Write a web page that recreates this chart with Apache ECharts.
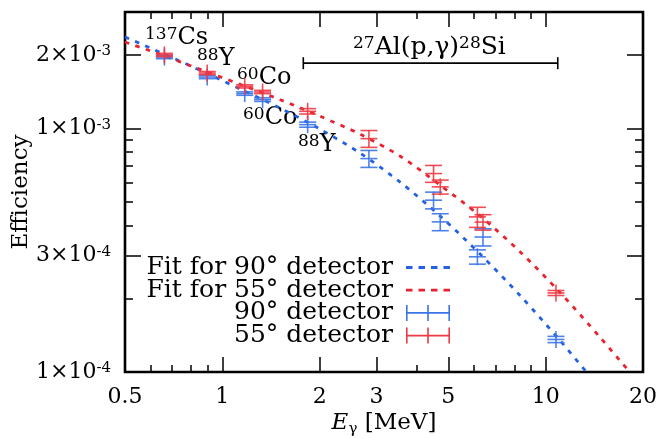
<!DOCTYPE html>
<html><head><meta charset="utf-8">
<script src="https://cdn.jsdelivr.net/npm/echarts@6/dist/echarts.min.js"></script>
<style>html,body{margin:0;padding:0;background:#fff}#c{width:666px;height:438px}</style>
</head><body><div id="c"></div>
<script>
// ---- tick data ----
const xTickValues = [0.5, 1, 2, 3, 5, 10, 20];
const xTickLabels = ['0.5', '1', '2', '3', '5', '10', '20'];
const xMinorTicks = [0.6, 0.7, 0.8, 0.9, 4, 6, 7, 8, 9];
const yTickValues = [1e-4, 3e-4, 1e-3, 2e-3];
const yTickMantissa = ['1', '3', '1', '2'];
const yTickExponent = ['-4', '-4', '-3', '-3'];
const yMinorTicks = [2e-4, 4e-4, 5e-4, 6e-4, 7e-4, 8e-4, 9e-4];

// ---- measured points ----
const energy55 = [0.662, 0.898, 1.173, 1.332, 1.836, 2.84, 4.50, 4.72, 6.15, 6.40, 10.76];
const eff55 = [2.00e-3, 1.685e-3, 1.486e-3, 1.409e-3, 1.174e-3, 9.07e-4, 6.52e-4, 5.75e-4, 4.33e-4, 4.12e-4, 2.11e-4];
const err55 = [3e-5, 2.5e-5, 2.2e-5, 2.2e-5, 3e-5, 7.2e-5, 5.2e-5, 3.8e-5, 4.1e-5, 3.0e-5, 5e-6];
const energy90 = [0.662, 0.898, 1.173, 1.332, 1.836, 2.84, 4.50, 4.72, 6.15, 6.40, 10.76];
const eff90 = [1.96e-3, 1.623e-3, 1.388e-3, 1.311e-3, 1.035e-3, 7.51e-4, 5.07e-4, 4.13e-4, 2.97e-4, 3.58e-4, 1.36e-4];
const err90 = [3e-5, 2.5e-5, 2.2e-5, 2.2e-5, 2.5e-5, 6.0e-5, 4.0e-5, 3.3e-5, 2.0e-5, 2.9e-5, 4e-6];

// ---- fit curves ----
const fit90E = [0.5, 0.642, 0.854, 1.135, 1.509, 2.008, 2.67, 3.55, 4.72, 6.28, 8.36, 11.11, 13.76];
const fit90Eff = [2.37e-3, 2.05e-3, 1.73e-3, 1.45e-3, 1.21e-3, 9.91e-4, 7.90e-4, 6.01e-4, 4.36e-4, 3.04e-4, 2.05e-4, 1.34e-4, 0.954e-4];
const fit55E = [0.5, 0.642, 0.854, 1.135, 1.509, 2.008, 2.67, 3.55, 4.72, 6.28, 8.36, 11.11, 14.78, 18.3];
const fit55Eff = [2.26e-3, 2.01e-3, 1.745e-3, 1.515e-3, 1.31e-3, 1.12e-3, 9.45e-4, 7.68e-4, 5.84e-4, 4.36e-4, 3.10e-4, 2.11e-4, 1.38e-4, 0.99e-4];

// ---- Al(p,gamma) energy range bar ----
const rangeE = [1.78, 10.9];
const rangeEff = 1.85e-3;

const FONT = 'DejaVu Serif';
const BLUE = '#2461e0';
const RED = '#e8232f';
const BLUE_EB = '#3a74e6';
const RED_EB = '#ee3843';

const richAxis = {
  n: {fontSize: 22, fontFamily: FONT, color: '#000', lineHeight: 22, verticalAlign: 'bottom'},
  s: {fontSize: 15, fontFamily: FONT, color: '#000', lineHeight: 15, padding: [0, 0, 10, 0], verticalAlign: 'top'}
};
const richG = {
  n: {fontSize: 24, fontFamily: FONT, fill: '#000', lineHeight: 24, verticalAlign: 'bottom'},
  s: {fontSize: 17, fontFamily: FONT, fill: '#000', lineHeight: 17, padding: [0, 0, 10, 0], verticalAlign: 'top'}
};
const richT = {
  n: {fontSize: 25, fontFamily: FONT, fill: '#000', lineHeight: 25, verticalAlign: 'bottom'},
  s: {fontSize: 17, fontFamily: FONT, fill: '#000', lineHeight: 17, padding: [0, 0, 10, 0], verticalAlign: 'top'}
};

function xAxisDef(pos, ticks, len, withLabels) {
  const a = {
    type: 'log', logBase: 10, position: pos, min: 0.5, max: 20,
    axisLine: {show: false}, splitLine: {show: false}, minorTick: {show: false},
    axisTick: {show: true, inside: true, length: len, customValues: ticks, lineStyle: {color: '#000', width: 1.5}},
    axisLabel: {show: false}
  };
  if (withLabels) {
    a.axisLabel = {
      show: true, customValues: xTickValues, margin: 14,
      fontFamily: FONT, fontSize: 22, color: '#000',
      formatter: function (v) {
        let i = xTickValues.findIndex(t => Math.abs(t - v) / t < 1e-6);
        return i >= 0 ? xTickLabels[i] : '';
      }
    };
    a.name = '{i|E}{g|γ}{n| [MeV]}';
    a.nameLocation = 'middle';
    a.nameGap = 40;
    a.nameMoveOverlap = false;
    a.nameTextStyle = {
      rich: {
        i: {fontSize: 23, fontFamily: FONT, fontStyle: 'italic', color: '#000', lineHeight: 23, verticalAlign: 'top'},
        g: {fontSize: 15, fontFamily: FONT, color: '#000', lineHeight: 15, padding: [10, 0, 0, 0], verticalAlign: 'top'},
        n: {fontSize: 23, fontFamily: FONT, color: '#000', lineHeight: 23, verticalAlign: 'top'}
      }
    };
  }
  return a;
}
function yAxisDef(pos, ticks, len, withLabels) {
  const a = {
    type: 'log', logBase: 10, position: pos, min: 1e-4, max: 3e-3,
    axisLine: {show: false}, splitLine: {show: false}, minorTick: {show: false},
    axisTick: {show: true, inside: true, length: len, customValues: ticks, lineStyle: {color: '#000', width: 1.5}},
    axisLabel: {show: false}
  };
  if (withLabels) {
    a.axisLabel = {
      show: true, customValues: yTickValues, margin: 14, rich: richAxis,
      formatter: function (v) {
        let i = yTickValues.findIndex(t => Math.abs(t - v) / t < 1e-6);
        return i >= 0 ? '{n|' + yTickMantissa[i] + '×10}{s|' + yTickExponent[i] + '}' : '';
      }
    };
    a.name = 'Efficiency';
    a.nameLocation = 'middle';
    a.nameGap = 92;
    a.nameMoveOverlap = false;
    a.nameTextStyle = {fontFamily: FONT, fontSize: 23, color: '#000'};
  }
  return a;
}

function errRender(color) {
  return function (params, api) {
    const x = api.value(0), y = api.value(1), lo = api.value(2), hi = api.value(3);
    const c = api.coord([x, y]);
    const pl = api.coord([x, lo]);
    const ph = api.coord([x, hi]);
    const w = 8.5;
    const st = {stroke: color, lineWidth: 1.6, opacity: 0.9};
    const top = Math.min(ph[1], c[1] - w), bot = Math.max(pl[1], c[1] + w);
    return {type: 'group', children: [
      {type: 'line', shape: {x1: c[0], y1: top, x2: c[0], y2: bot}, style: st},
      {type: 'line', shape: {x1: c[0] - w, y1: ph[1], x2: c[0] + w, y2: ph[1]}, style: st},
      {type: 'line', shape: {x1: c[0] - w, y1: pl[1], x2: c[0] + w, y2: pl[1]}, style: st},
      {type: 'line', shape: {x1: c[0] - w, y1: c[1], x2: c[0] + w, y2: c[1]}, style: st}
    ]};
  };
}

const data55 = energy55.map((e, i) => [e, eff55[i], eff55[i] - err55[i], eff55[i] + err55[i]]);
const data90 = energy90.map((e, i) => [e, eff90[i], eff90[i] - err90[i], eff90[i] + err90[i]]);
const fit90 = fit90E.map((e, i) => [e, fit90Eff[i]]);
const fit55 = fit55E.map((e, i) => [e, fit55Eff[i]]);

const ERR_ICON = 'path://M0,0h1.6v16h-1.6z M42.4,0h1.6v16h-1.6z M21.2,0h1.6v16h-1.6z M0,7.2h44v1.6h-44z';
const DASH_ICON = 'path://M0,0h6.5v2.8h-6.5z M12.5,0h6.5v2.8h-6.5z M25,0h6.5v2.8h-6.5z M37.5,0h6.5v2.8h-6.5z';

const chart = echarts.init(document.getElementById('c'), null, {renderer: 'canvas'});
chart.setOption({
  animation: false,
  backgroundColor: '#fff',
  grid: {left: 125, right: 23, top: 12, bottom: 66, show: true, borderColor: '#000', borderWidth: 2.6,
    backgroundColor: 'transparent', containLabel: false, outerBoundsMode: 'none'},
  xAxis: [
    xAxisDef('bottom', xTickValues, 15, true),
    xAxisDef('top', xTickValues, 15, false),
    xAxisDef('bottom', xMinorTicks, 7, false),
    xAxisDef('top', xMinorTicks, 7, false)
  ],
  yAxis: [
    yAxisDef('left', yTickValues, 16, true),
    yAxisDef('right', yTickValues, 16, false),
    yAxisDef('left', yMinorTicks, 8, false),
    yAxisDef('right', yMinorTicks, 8, false)
  ],
  legend: {
    orient: 'vertical', right: 211, top: 250, align: 'right',
    itemWidth: 44, itemHeight: 16, itemGap: -2.3, selectedMode: false,
    textStyle: {fontFamily: FONT, fontSize: 25, color: '#000', padding: [0, 8, 0, 0], lineHeight: 18},
    data: [
      {name: 'Fit for 90° detector', icon: DASH_ICON},
      {name: 'Fit for 55° detector', icon: DASH_ICON},
      {name: '90° detector', icon: ERR_ICON},
      {name: '55° detector', icon: ERR_ICON}
    ]
  },
  graphic: [
    {type: 'text', x: 353, y: 35, style: {text: '{s|27}{n|Al(p,γ)}{s|28}{n|Si}', rich: richT}},
    {type: 'text', x: 145, y: 26, style: {text: '{s|137}{n|Cs}', rich: richG}},
    {type: 'text', x: 197, y: 47, style: {text: '{s|88}{n|Y}', rich: richG}},
    {type: 'text', x: 237, y: 66, style: {text: '{s|60}{n|Co}', rich: richG}},
    {type: 'text', x: 243, y: 106, style: {text: '{s|60}{n|Co}', rich: richG}},
    {type: 'text', x: 298, y: 133, style: {text: '{s|88}{n|Y}', rich: richG}}
  ],
  series: [
    {
      name: 'Fit for 90° detector', type: 'line', data: fit90, smooth: 0.3, symbol: 'none', clip: true,
      xAxisIndex: 0, yAxisIndex: 0, itemStyle: {color: BLUE},
      lineStyle: {color: BLUE, width: 2.8, type: [4.5, 6.5]}, z: 3
    },
    {
      name: 'Fit for 55° detector', type: 'line', data: fit55, smooth: 0.3, symbol: 'none', clip: true,
      xAxisIndex: 0, yAxisIndex: 0, itemStyle: {color: RED},
      lineStyle: {color: RED, width: 2.8, type: [4.5, 6.5]}, z: 3
    },
    {
      name: '90° detector', type: 'custom', data: data90, renderItem: errRender(BLUE_EB),
      encode: {x: 0, y: 1}, itemStyle: {color: BLUE_EB}, xAxisIndex: 0, yAxisIndex: 0, z: 4
    },
    {
      name: '55° detector', type: 'custom', data: data55, renderItem: errRender(RED_EB),
      encode: {x: 0, y: 1}, itemStyle: {color: RED_EB}, xAxisIndex: 0, yAxisIndex: 0, z: 5
    },
    {
      name: 'range', type: 'custom', data: [[rangeE[0], rangeE[1], rangeEff]],
      encode: {x: [0, 1], y: 2}, xAxisIndex: 0, yAxisIndex: 0, z: 6,
      renderItem: function (params, api) {
        const a = api.coord([api.value(0), api.value(2)]);
        const b = api.coord([api.value(1), api.value(2)]);
        const st = {stroke: '#000', lineWidth: 1.6};
        return {type: 'group', children: [
          {type: 'line', shape: {x1: a[0], y1: a[1], x2: b[0], y2: b[1]}, style: st},
          {type: 'line', shape: {x1: a[0], y1: a[1] - 6, x2: a[0], y2: a[1] + 6}, style: st},
          {type: 'line', shape: {x1: b[0], y1: b[1] - 6, x2: b[0], y2: b[1] + 6}, style: st}
        ]};
      }
    }
  ]
});
</script></body></html>
